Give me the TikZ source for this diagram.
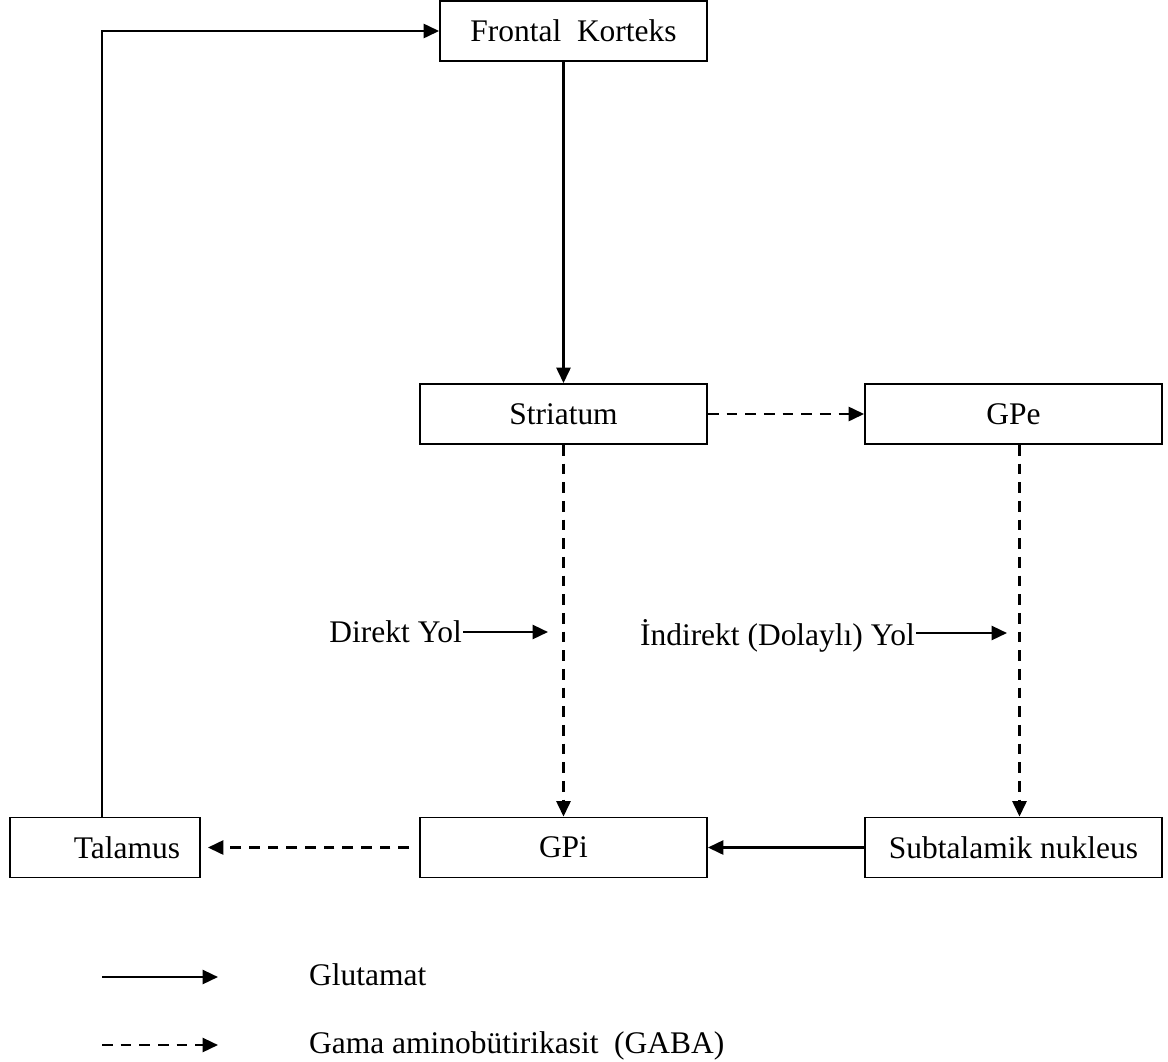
\documentclass[tikz,border=0pt]{standalone}
\usepackage{fontspec}
\setmainfont{Liberation Serif}
\usepackage{tikz}
\usetikzlibrary{arrows.meta}

\begin{document}
\begin{tikzpicture}[->,x=0.75pt,y=-0.75pt,>={Triangle[length=11.5pt,width=10.5pt]},line width=1.8pt,font=\fontsize{23.6}{28}\selectfont]
    \tikzstyle{box}=[draw, line width=1.4pt, minimum height=45pt, inner sep=0pt, text=black]
    \tikzstyle{boxtop}=[style=box, minimum width=200.25pt]
    \tikzstyle{boxmid}=[style=box, minimum width=215.25pt]
    \tikzstyle{boxright}=[style=box, minimum width=222.75pt]
    \tikzstyle{lbl}=[inner sep=0pt, text depth=0pt, text=black]
    \tikzstyle{gaba}=[dash pattern=on 8pt off 6pt]

    \useasboundingbox (0,0) rectangle (1168,1061);

    \node[boxtop] (FK) at (573.5,31) {Frontal~ Korteks};
    \node[boxmid] (Str) at (563.5,414) {Striatum};
    \node[boxright] (GPe) at (1013.5,414) {GPe};
    \node[box, minimum width=142.5pt, text width=112.5pt, align=right, inner xsep=15pt] (Tal) at (105,847.5) {Talamus};
    \node[boxmid] (GPi) at (563.5,847.5) {GPi};
    \node[boxright] (STN) at (1013.5,847.5) {Subtalamik nukleus};

    \node[lbl, anchor=east] (direkt) at (463,632) {Direkt Yol};
    \coordinate (dtip) at (548,632);
    \node[lbl, anchor=east] (indirekt) at (916,633) {İndirekt (Dolaylı) Yol};
    \coordinate (itip) at (1007,633);

    \coordinate (glu1) at (102,977);
    \coordinate (glu2) at (218,977);
    \node[lbl, anchor=west] (glutext) at (308,975) {Glutamat};
    \coordinate (gab1) at (102,1045);
    \coordinate (gab2) at (218,1045);
    \node[lbl, anchor=west] (gabtext) at (308,1043) {Gama aminobütirikasit~ (GABA)};

    \path
     ([xshift=-2.25pt]Tal.north) edge[to path={|- (\tikztotarget)}] (FK.west)
     (FK.south -| Str.north) edge (Str.north)
     (Str.east) edge[gaba] (GPe.west)
     (Str.south) edge[gaba] (GPi.north)
     ([xshift=4.5pt]GPe.south) edge[gaba] ([xshift=4.5pt]STN.north)
     (STN.west) edge (GPi.east)
     ([xshift=-7.5pt]GPi.west) edge[gaba] ([xshift=5.25pt]Tal.east)
     (direkt.east) edge (dtip)
     (indirekt.east) edge (itip)
     (glu1) edge (glu2)
     (gab1) edge[gaba] (gab2);
\end{tikzpicture}
\end{document}
